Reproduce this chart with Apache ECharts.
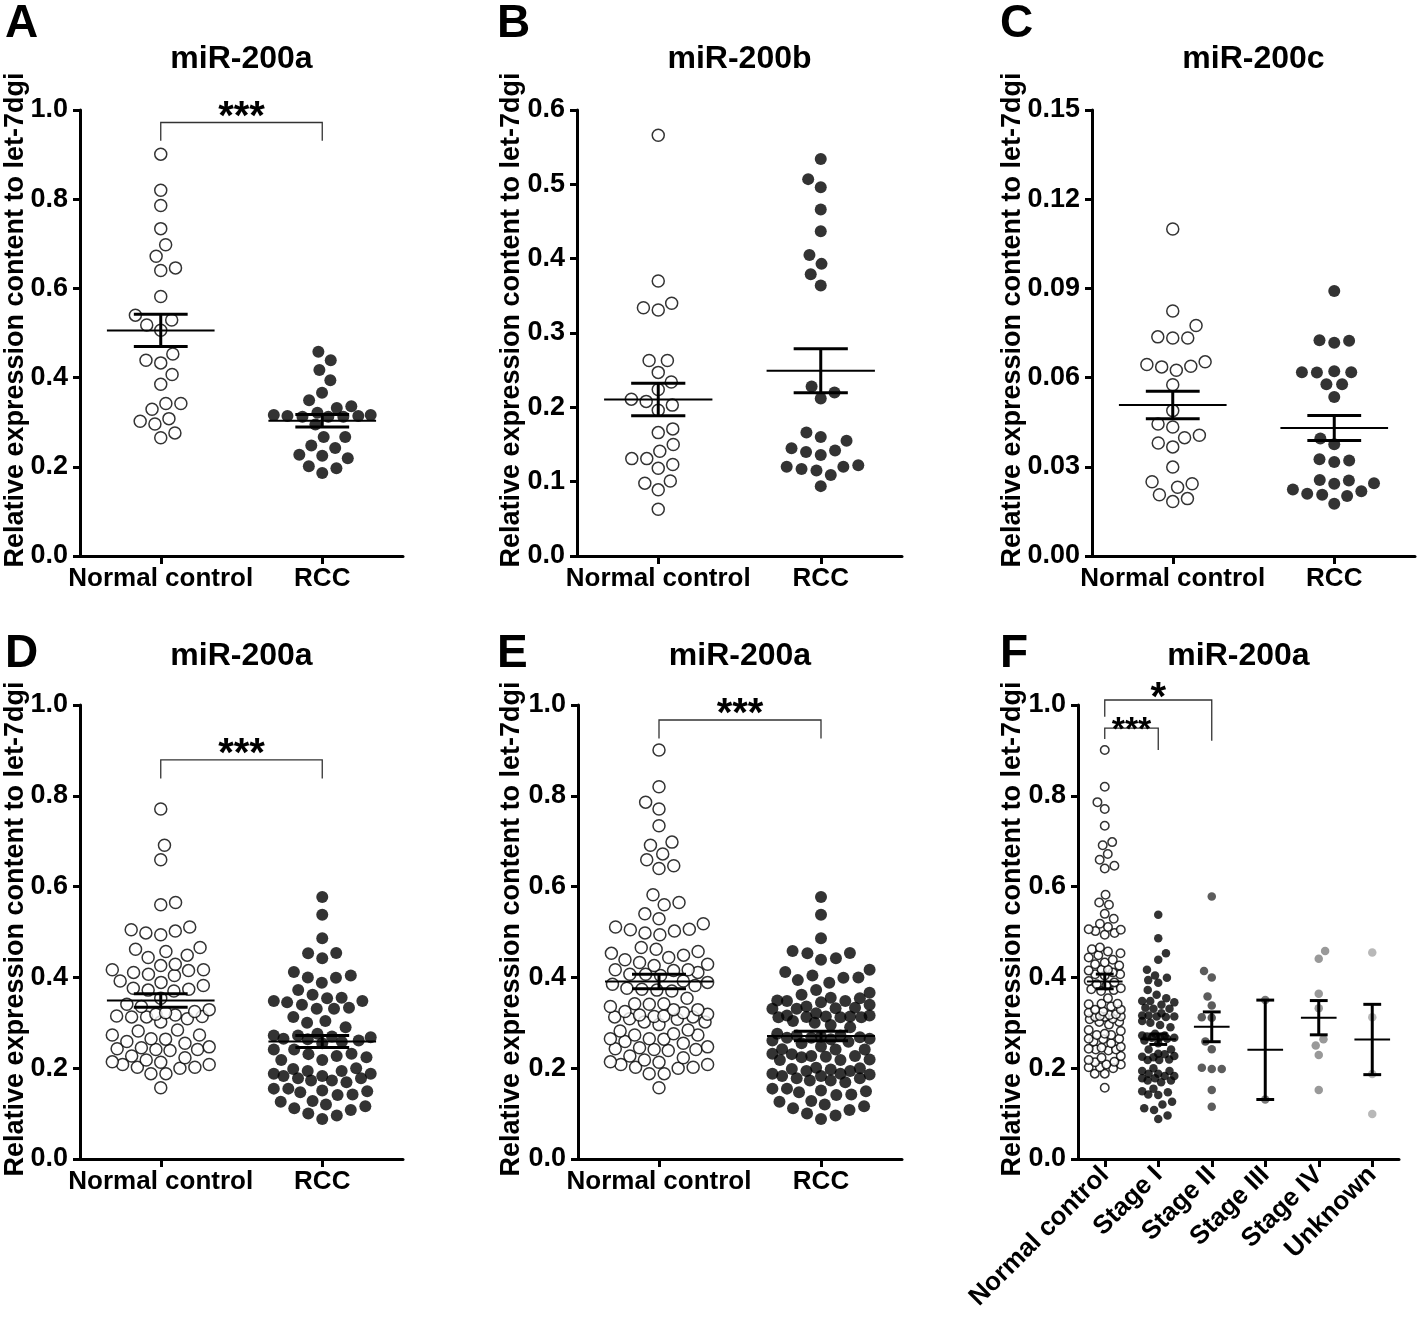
<!DOCTYPE html>
<html>
<head>
<meta charset="utf-8">
<script src="https://cdn.jsdelivr.net/npm/echarts@6/dist/echarts.min.js"></script>
<style>html,body{margin:0;padding:0;background:#fff}#chart{width:1418px;height:1324px}</style>
</head>
<body>
<div id="chart"></div>
<script>
// ---------------- DATA ----------------
const categoriesTwo = ['Normal control', 'RCC'];
const categoriesStage = ['Normal control', 'Stage I', 'Stage II', 'Stage III', 'Stage IV', 'Unknown'];
const panelLetters = ['A', 'B', 'C', 'D', 'E', 'F'];
const panelTitles = ['miR-200a', 'miR-200b', 'miR-200c', 'miR-200a', 'miR-200a', 'miR-200a'];
const yAxisTitle = 'Relative expression content to let-7dgi';
// [min, max, interval, decimals]
const yTicksA = [0, 1.0, 0.2, 1];
const yTicksB = [0, 0.6, 0.1, 1];
const yTicksC = [0, 0.15, 0.03, 2];

const aNormal = [0.901,0.820,0.786,0.734,0.698,0.672,0.646,0.640,0.582,0.540,0.529,0.518,0.506,0.453,0.439,0.433,0.407,0.385,0.342,0.342,0.329,0.308,0.302,0.296,0.276,0.265];
const aRcc = [0.458,0.439,0.417,0.394,0.366,0.349,0.336,0.332,0.321,0.316,0.314,0.312,0.312,0.312,0.314,0.316,0.295,0.267,0.267,0.248,0.242,0.227,0.225,0.219,0.201,0.197,0.186];

const bNormal = [0.566,0.370,0.340,0.331,0.334,0.263,0.263,0.247,0.234,0.224,0.211,0.203,0.208,0.196,0.171,0.166,0.150,0.141,0.131,0.131,0.123,0.118,0.101,0.098,0.089,0.063];
const bRcc = [0.534,0.507,0.496,0.466,0.437,0.405,0.393,0.379,0.364,0.228,0.220,0.212,0.160,0.166,0.155,0.145,0.140,0.142,0.136,0.122,0.120,0.115,0.117,0.120,0.109,0.094];

const cNormal = [0.110,0.0824,0.0775,0.0737,0.0733,0.0733,0.0653,0.0638,0.0636,0.0644,0.0625,0.0576,0.0489,0.0444,0.0434,0.0406,0.0398,0.0380,0.0367,0.0299,0.0250,0.0243,0.0231,0.0206,0.0193,0.0183];
const cRcc = [0.0891,0.0726,0.0717,0.0724,0.0621,0.0618,0.0617,0.0618,0.0578,0.0578,0.0535,0.0395,0.0376,0.0325,0.0316,0.0321,0.0256,0.0245,0.0243,0.0254,0.0218,0.0206,0.0202,0.0209,0.0224,0.0176];

const dNormal = [0.771,0.691,0.659,0.565,0.560,0.511,0.502,0.494,0.498,0.505,0.462,0.449,0.444,0.457,0.466,0.426,0.417,0.411,0.404,0.407,0.415,0.417,0.429,0.392,0.382,0.374,0.370,0.372,0.376,0.389,0.354,0.341,0.329,0.322,0.317,0.314,0.313,0.313,0.315,0.319,0.325,0.336,0.309,0.302,0.282,0.273,0.273,0.284,0.264,0.255,0.245,0.241,0.239,0.241,0.243,0.247,0.259,0.265,0.223,0.214,0.208,0.202,0.188,0.200,0.202,0.188,0.208,0.213,0.218,0.227,0.157];
const dRcc = [0.577,0.538,0.486,0.454,0.442,0.453,0.412,0.404,0.399,0.388,0.400,0.372,0.362,0.354,0.348,0.340,0.345,0.348,0.355,0.333,0.331,0.331,0.313,0.304,0.300,0.290,0.276,0.272,0.268,0.264,0.261,0.265,0.270,0.272,0.258,0.255,0.241,0.232,0.227,0.218,0.218,0.224,0.231,0.241,0.198,0.194,0.188,0.183,0.178,0.173,0.169,0.173,0.178,0.183,0.188,0.194,0.200,0.155,0.149,0.142,0.128,0.126,0.141,0.147,0.151,0.155,0.120,0.112,0.100,0.088,0.096,0.108,0.116];

// E pools the two cohorts of A and D; F splits E's RCC group by stage
const eNormal = aNormal.concat(dNormal);
const eRcc = aRcc.concat(dRcc);
const fStage2 = [0.578,0.414,0.400,0.358,0.338,0.311,0.312,0.259,0.242,0.201,0.198,0.198,0.152,0.115];
const fStage3 = [0.350,0.131];
const fStage4 = [0.458,0.441,0.364,0.332,0.264,0.250,0.229,0.152];
const fUnknown = [0.455,0.312,0.187,0.099];
function removeMatched(pool, toRemove) {
  const rest = pool.slice();
  toRemove.forEach(v => {
    let bi = 0, bd = Infinity;
    rest.forEach((r, i) => { const dd = Math.abs(r - v); if (dd < bd) { bd = dd; bi = i; } });
    rest.splice(bi, 1);
  });
  return rest;
}
const fNormal = eNormal;
const fStage1 = removeMatched(eRcc, fStage2.concat(fStage3, fStage4, fUnknown));

// significance brackets: [panel, xFrom, xTo, yLine, yEndFrom, yEndTo, label]
const brackets = [
  [0, 0, 1, 0.972, 0.931, 0.931, '***'],
  [3, 0, 1, 0.879, 0.838, 0.838, '***'],
  [4, 0, 1, 0.967, 0.926, 0.926, '***'],
  [5, 0, 2, 1.011, 0.974, 0.921, '*'],
  [5, 0, 1, 0.949, 0.925, 0.901, '***']
];

// ---------------- LAYOUT / STYLE ----------------
const FONT = '"Liberation Sans", Arial, Helvetica, sans-serif';
const layout = [
  {left: 80, top: 110, width: 323, height: 446},
  {left: 577, top: 110, width: 325, height: 446},
  {left: 1092, top: 110, width: 323, height: 446},
  {left: 80, top: 705, width: 323, height: 454},
  {left: 578, top: 705, width: 324, height: 454},
  {left: 1078, top: 705, width: 321, height: 454}
];
const panels = [
  {cats: categoriesTwo, y: yTicksA, groups: [aNormal, aRcc]},
  {cats: categoriesTwo, y: yTicksB, groups: [bNormal, bRcc]},
  {cats: categoriesTwo, y: yTicksC, groups: [cNormal, cRcc]},
  {cats: categoriesTwo, y: yTicksA, groups: [dNormal, dRcc]},
  {cats: categoriesTwo, y: yTicksA, groups: [eNormal, eRcc]},
  {cats: categoriesStage, y: yTicksA, groups: [fNormal, fStage1, fStage2, fStage3, fStage4, fUnknown]}
];
const fillColors = [null, '#000000', '#333333', '#595959', '#7f7f7f', '#a6a6a6'];

function meanSem(v) {
  const n = v.length;
  const m = v.reduce((s, x) => s + x, 0) / n;
  const sd = Math.sqrt(v.reduce((s, x) => s + (x - m) * (x - m), 0) / (n - 1));
  return [m, sd / Math.sqrt(n)];
}

// beeswarm: spread points sideways so they do not overlap (pixel space)
function swarm(vals, idx, yPx, xUnitPx, d, cap) {
  const sorted = vals.slice().sort((a, b) => a - b);
  const placed = [];
  const out = [];
  sorted.forEach((v, k) => {
    const y = v * yPx;
    const nb = placed.filter(p => Math.abs(p.y - y) < d);
    let cands = [0];
    nb.forEach(p => {
      const dx = Math.sqrt(d * d - (p.y - y) * (p.y - y));
      cands.push(p.x + dx, p.x - dx);
    });
    cands = cands.filter(c => Math.abs(c) <= cap + 1e-6);
    const side = (k % 2) ? 1 : -1;
    cands.sort((a, b) => {
      const diff = Math.abs(a) - Math.abs(b);
      if (Math.abs(diff) > 0.5) return diff;
      return side * (b - a);
    });
    let best = null;
    for (const c of cands) {
      if (nb.every(p => (p.x - c) * (p.x - c) + (p.y - y) * (p.y - y) >= d * d - 0.01)) { best = c; break; }
    }
    if (best === null) {
      let bestScore = -1;
      for (let i = 0; i <= 20; i++) {
        const c = -cap + i * cap / 10;
        const m = Math.min(...nb.map(p => Math.hypot(p.x - c, p.y - y)));
        if (m > bestScore + 1e-6 || (Math.abs(m - bestScore) < 1e-6 && Math.abs(c) < Math.abs(best))) { bestScore = m; best = c; }
      }
    }
    placed.push({x: best, y: y});
    out.push([idx + best / xUnitPx, v]);
  });
  return out;
}

const grids = [], xAxes = [], yAxes = [], series = [], graphics = [];
panels.forEach((p, k) => {
  const L = layout[k];
  const nC = p.cats.length;
  const isF = nC > 2;
  grids.push({left: L.left, top: L.top, width: L.width, height: L.height, containLabel: false});
  xAxes.push({
    type: 'category', gridIndex: k, data: p.cats, boundaryGap: true, position: 'bottom',
    axisLine: {show: true, onZero: false, lineStyle: {color: '#000', width: 3}},
    axisTick: {show: true, alignWithLabel: true, length: 8, lineStyle: {color: '#000', width: 3}},
    axisLabel: {interval: 0, color: '#000', fontSize: 26, fontWeight: 'bold', fontFamily: FONT,
      margin: isF ? 12 : 10, rotate: isF ? 45 : 0},
    splitLine: {show: false}
  });
  xAxes.push({type: 'value', gridIndex: k, min: -0.5, max: nC - 0.5, show: false});
  yAxes.push({
    type: 'value', gridIndex: k, min: p.y[0], max: p.y[1], interval: p.y[2], position: 'left',
    axisLine: {show: true, onZero: false, lineStyle: {color: '#000', width: 3}},
    axisTick: {show: true, length: 7, lineStyle: {color: '#000', width: 3}},
    axisLabel: {color: '#000', fontSize: 27, fontWeight: 'bold', fontFamily: FONT, margin: 12,
      formatter: v => v.toFixed(p.y[3])},
    splitLine: {show: false}
  });
  const yPx = L.height / (p.y[1] - p.y[0]);
  const xUnitPx = L.width / nC;
  const dot = isF ? 8.5 : 12;
  const dColl = isF ? 10 : 15;
  const cap = 0.3 * xUnitPx;
  p.groups.forEach((g, gi) => {
    const open = gi === 0;
    series.push({
      type: 'scatter', xAxisIndex: 2 * k + 1, yAxisIndex: k, symbol: 'circle',
      symbolSize: dot, silent: true, z: 2,
      itemStyle: open ? {color: '#fff', borderColor: '#000', borderWidth: 1.5}
                      : {color: fillColors[gi], borderWidth: 0},
      data: swarm(g, gi, yPx, xUnitPx, dColl, cap)
    });
  });
  series.push({
    type: 'custom', xAxisIndex: 2 * k + 1, yAxisIndex: k, z: 5, silent: true, clip: false,
    encode: {x: 0, y: 1},
    data: p.groups.map((g, gi) => { const ms = meanSem(g); return [gi, ms[0], ms[1]]; }),
    renderItem: function (params, api) {
      const i = api.value(0), m = api.value(1), s = api.value(2);
      const c = api.coord([i, m]), t = api.coord([i, m + s]), b = api.coord([i, m - s]);
      const band = api.size([1, 0])[0];
      const thin = {stroke: '#000', lineWidth: 2};
      const st = {stroke: '#000', lineWidth: 3};
      return {type: 'group', children: [
        {type: 'line', shape: {x1: c[0] - band / 3, y1: c[1], x2: c[0] + band / 3, y2: c[1]}, style: thin},
        {type: 'line', shape: {x1: c[0], y1: t[1], x2: c[0], y2: b[1]}, style: st},
        {type: 'line', shape: {x1: c[0] - band / 6, y1: t[1], x2: c[0] + band / 6, y2: t[1]}, style: st},
        {type: 'line', shape: {x1: c[0] - band / 6, y1: b[1], x2: c[0] + band / 6, y2: b[1]}, style: st}
      ]};
    }
  });
  const br = brackets.filter(b => b[0] === k);
  if (br.length) {
    series.push({
      type: 'custom', xAxisIndex: 2 * k + 1, yAxisIndex: k, z: 6, silent: true, clip: false,
      encode: {x: [0, 1], y: [2, 3, 4]},
      data: br.map(b => [b[1], b[2], b[3], b[4], b[5]]),
      renderItem: function (params, api) {
        const b = br[params.dataIndex];
        const p1 = api.coord([b[1], b[3]]), p2 = api.coord([b[2], b[3]]);
        const e1 = api.coord([b[1], b[4]]), e2 = api.coord([b[2], b[5]]);
        const fs = isF && b[6] === '***' ? 34 : 40;
        const dy = isF ? (b[6] === '*' ? -1 : 2) : -5;
        return {type: 'group', children: [
          {type: 'polyline', shape: {points: [[e1[0], e1[1]], [p1[0], p1[1]], [p2[0], p2[1]], [e2[0], e2[1]]]},
            style: {stroke: '#333', lineWidth: 1.3, fill: null}},
          {type: 'text', x: (p1[0] + p2[0]) / 2, y: p1[1] + dy,
            style: {text: b[6], fontSize: fs, fontWeight: 'bold', fontFamily: FONT, fill: '#000',
              align: 'center', verticalAlign: 'middle', textAlign: 'center', textVerticalAlign: 'middle'}}
        ]};
      }
    });
  }
  const cx = L.left + L.width / 2;
  const topRow = k < 3;
  graphics.push({type: 'text', x: cx, y: topRow ? 59 : 656,
    style: {text: panelTitles[k], fontSize: 32, fontWeight: 'bold', fontFamily: FONT, fill: '#000',
      align: 'center', verticalAlign: 'middle', textAlign: 'center', textVerticalAlign: 'middle'}});
  graphics.push({type: 'text', x: [5, 497, 1000][k % 3], y: topRow ? 24 : 654,
    style: {text: panelLetters[k], fontSize: 46, fontWeight: 'bold', fontFamily: FONT, fill: '#000',
      align: 'left', verticalAlign: 'middle', textAlign: 'left', textVerticalAlign: 'middle'}});
  graphics.push({type: 'text', x: [16, 512, 1013][k % 3], y: topRow ? 320 : 929, rotation: Math.PI / 2,
    style: {text: yAxisTitle, fontSize: 27, fontWeight: 'bold', fontFamily: FONT, fill: '#000',
      align: 'center', verticalAlign: 'middle', textAlign: 'center', textVerticalAlign: 'middle'}});
});

const chart = echarts.init(document.getElementById('chart'), null, {renderer: 'canvas'});
chart.setOption({
  animation: false,
  backgroundColor: '#fff',
  grid: grids, xAxis: xAxes, yAxis: yAxes, series: series, graphic: graphics
});
</script>
</body>
</html>
